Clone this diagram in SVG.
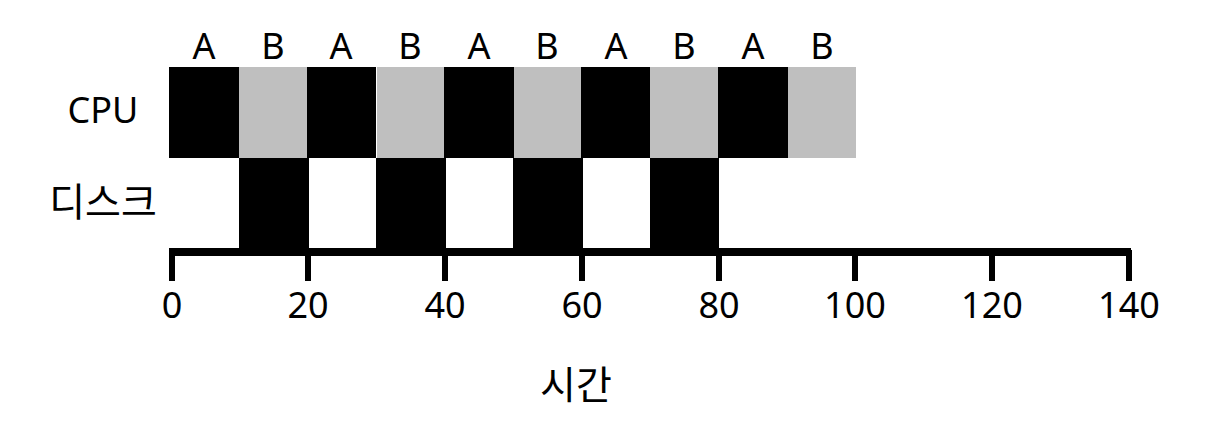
<svg xmlns="http://www.w3.org/2000/svg" width="1230" height="432" viewBox="0 0 1230 432">
<style>
text{font-family:"Noto Sans","Noto Sans CJK KR",sans-serif;font-size:36px;fill:#000;text-anchor:middle}
.ko{font-size:39px}
.k{fill:#000}
.g{fill:#bfbfbf}
</style>
<rect width="1230" height="432" fill="#fff"/>
<g id="cpu-row">
<text x="103" y="123">CPU</text>
<rect class="k" x="169" y="67" width="70" height="91"/>
<rect class="g" x="239" y="67" width="68" height="91"/>
<rect class="k" x="307" y="67" width="69" height="91"/>
<rect class="g" x="377" y="67" width="67" height="91"/>
<rect class="k" x="444" y="67" width="70" height="91"/>
<rect class="g" x="514" y="67" width="67" height="91"/>
<rect class="k" x="581" y="67" width="69" height="91"/>
<rect class="g" x="650" y="67" width="68" height="91"/>
<rect class="k" x="718" y="67" width="70" height="91"/>
<rect class="g" x="788" y="67" width="68" height="91"/>
</g>
<g id="labels-ab">
<text x="204" y="59">A</text>
<text x="273" y="59">B</text>
<text x="341" y="59">A</text>
<text x="410" y="59">B</text>
<text x="479" y="59">A</text>
<text x="547" y="59">B</text>
<text x="616" y="59">A</text>
<text x="684" y="59">B</text>
<text x="753" y="59">A</text>
<text x="822" y="59">B</text>
</g>
<g id="disk-row">
<text class="ko" x="103" y="216">디스크</text>
<rect class="k" x="239" y="158" width="70" height="92"/>
<rect class="k" x="376" y="158" width="70" height="92"/>
<rect class="k" x="513" y="158" width="70" height="92"/>
<rect class="k" x="650" y="158" width="69" height="92"/>
</g>
<g id="axis">
<rect class="k" x="169" y="248" width="962" height="8"/>
<rect class="k" x="169" y="250" width="6" height="31"/>
<rect class="k" x="305" y="250" width="6" height="31"/>
<rect class="k" x="442" y="250" width="6" height="31"/>
<rect class="k" x="579" y="250" width="6" height="31"/>
<rect class="k" x="716" y="250" width="6" height="31"/>
<rect class="k" x="852" y="250" width="6" height="31"/>
<rect class="k" x="989" y="250" width="6" height="31"/>
<rect class="k" x="1126" y="250" width="6" height="31"/>
<text x="172" y="318">0</text>
<text x="308" y="318">20</text>
<text x="445" y="318">40</text>
<text x="582" y="318">60</text>
<text x="719" y="318">80</text>
<text x="855" y="318">100</text>
<text x="992" y="318">120</text>
<text x="1129" y="318">140</text>
<text class="ko" x="576" y="399">시간</text>
</g>
</svg>
